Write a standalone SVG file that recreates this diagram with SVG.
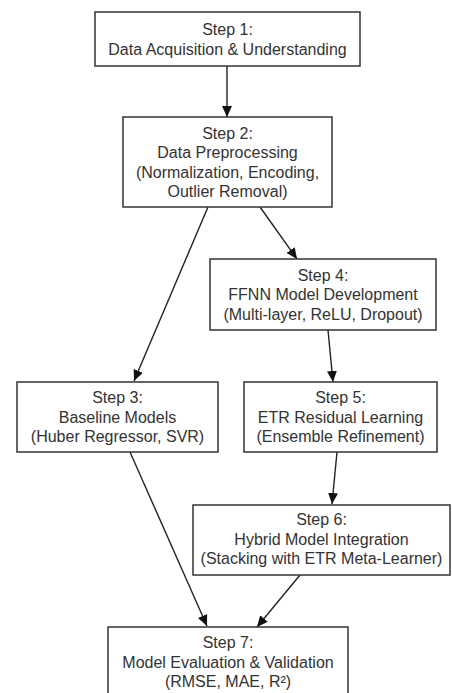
<svg xmlns="http://www.w3.org/2000/svg" width="452" height="693" viewBox="0 0 452 693">
<style>
.box{fill:#fff;stroke:#333;stroke-width:1.5}
.t{font-family:"Liberation Sans",Arial,sans-serif;font-size:16px;fill:#333;text-anchor:middle}
.e{stroke:#222;stroke-width:1.4;fill:none}
</style>
<defs>
<marker id="ah" markerUnits="userSpaceOnUse" markerWidth="12" markerHeight="10" refX="11" refY="5" orient="auto">
<path d="M0,0 L11,5 L0,10 Z" fill="#111"/>
</marker>
</defs>
<rect width="452" height="693" fill="#fff"/>
<g id="edges">
<line class="e" x1="227" y1="66" x2="227" y2="117" marker-end="url(#ah)"/>
<line class="e" x1="260" y1="207" x2="297" y2="259" marker-end="url(#ah)"/>
<line class="e" x1="208" y1="207" x2="134" y2="381" marker-end="url(#ah)"/>
<line class="e" x1="328" y1="330" x2="333" y2="382" marker-end="url(#ah)"/>
<line class="e" x1="130" y1="452" x2="207" y2="626" marker-end="url(#ah)"/>
<line class="e" x1="337" y1="452" x2="332" y2="504" marker-end="url(#ah)"/>
<line class="e" x1="300" y1="575" x2="257" y2="627" marker-end="url(#ah)"/>
</g>
<g id="step1">
<rect class="box" x="95" y="12" width="265" height="54"/>
<text class="t" x="227.5" y="35">Step 1:</text>
<text class="t" x="227.5" y="54.5">Data Acquisition &amp; Understanding</text>
</g>
<g id="step2">
<rect class="box" x="123" y="117" width="209" height="90"/>
<text class="t" x="227.5" y="138.5">Step 2:</text>
<text class="t" x="227.5" y="158">Data Preprocessing</text>
<text class="t" x="227.5" y="177.5">(Normalization, Encoding,</text>
<text class="t" x="227.5" y="197">Outlier Removal)</text>
</g>
<g id="step4">
<rect class="box" x="210" y="259" width="226" height="71"/>
<text class="t" x="323" y="280.5">Step 4:</text>
<text class="t" x="323" y="300">FFNN Model Development</text>
<text class="t" x="323" y="319.5">(Multi-layer, ReLU, Dropout)</text>
</g>
<g id="step3">
<rect class="box" x="17" y="382" width="201" height="70"/>
<text class="t" x="117.5" y="403">Step 3:</text>
<text class="t" x="117.5" y="422.5">Baseline Models</text>
<text class="t" x="117.5" y="442">(Huber Regressor, SVR)</text>
</g>
<g id="step5">
<rect class="box" x="244" y="382" width="193" height="70"/>
<text class="t" x="340.5" y="403">Step 5:</text>
<text class="t" x="340.5" y="422.5">ETR Residual Learning</text>
<text class="t" x="340.5" y="442">(Ensemble Refinement)</text>
</g>
<g id="step6">
<rect class="box" x="193" y="505" width="257" height="70"/>
<text class="t" x="321.5" y="525">Step 6:</text>
<text class="t" x="321.5" y="544.5">Hybrid Model Integration</text>
<text class="t" x="321.5" y="564">(Stacking with ETR Meta-Learner)</text>
</g>
<g id="step7">
<rect class="box" x="108" y="627" width="240" height="72"/>
<text class="t" x="228" y="648">Step 7:</text>
<text class="t" x="228" y="667.5">Model Evaluation &amp; Validation</text>
<text class="t" x="228" y="687">(RMSE, MAE, R²)</text>
</g>
</svg>
